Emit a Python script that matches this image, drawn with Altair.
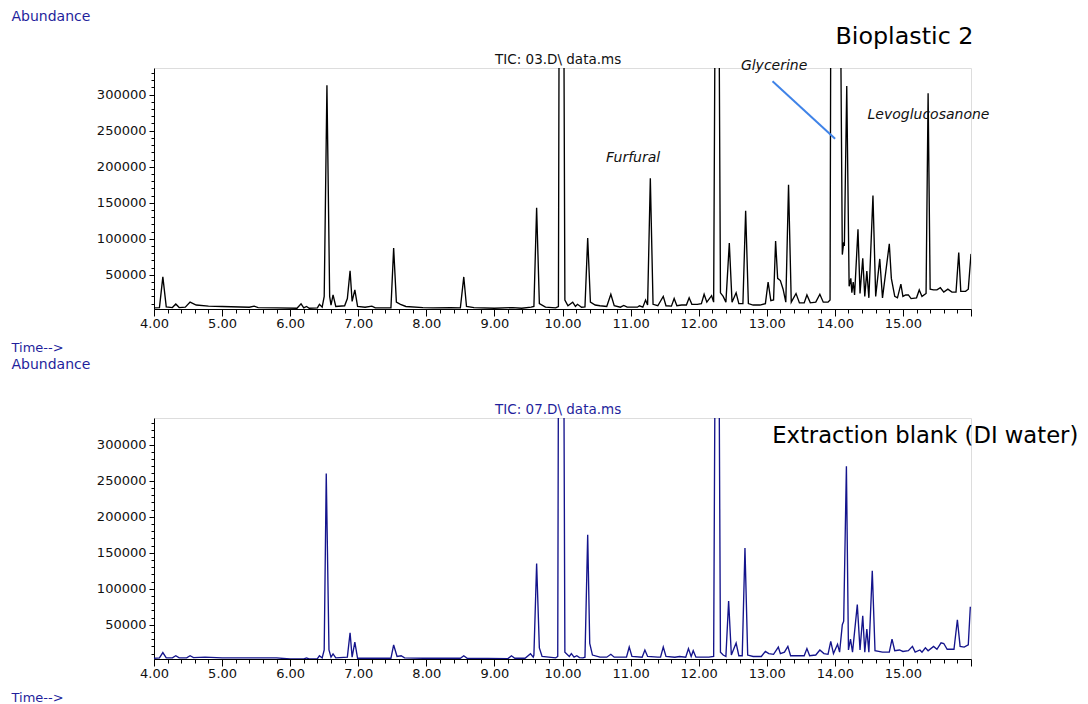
import altair as alt
import pandas as pd

# ---------------- data ----------------
# Bioplastic 2 (TIC: 03.D) retention time [min] and abundance
T1 = [4.00, 4.08, 4.13, 4.18, 4.27, 4.32, 4.37, 4.46, 4.53, 4.62, 4.80, 5.00, 5.40, 5.47, 5.53, 5.80,
      6.10, 6.16, 6.20, 6.24, 6.28, 6.40, 6.43, 6.47, 6.50, 6.54, 6.58, 6.60, 6.63, 6.67, 6.80, 6.84,
      6.88, 6.91, 6.95, 6.99, 7.10, 7.20, 7.25, 7.48, 7.52, 7.56, 7.62, 7.70, 7.95, 8.10, 8.36, 8.50,
      8.55, 8.59, 8.70, 9.00, 9.27, 9.40, 9.54, 9.58, 9.62, 9.66, 9.75, 9.90, 9.94, 9.95, 10.02, 10.035,
      10.08, 10.15, 10.19, 10.22, 10.28, 10.33, 10.37, 10.41, 10.48, 10.55, 10.65, 10.71, 10.76, 10.85,
      10.90, 10.95, 11.10, 11.13, 11.18, 11.22, 11.25, 11.29, 11.33, 11.40, 11.48, 11.52, 11.60, 11.64,
      11.68, 11.75, 11.82, 11.86, 11.90, 11.98, 12.04, 12.08, 12.12, 12.19, 12.22, 12.24, 12.30, 12.32,
      12.36, 12.40, 12.45, 12.49, 12.55, 12.59, 12.65, 12.69, 12.73, 12.80, 12.90, 12.98, 13.02, 13.06,
      13.10, 13.13, 13.16, 13.20, 13.24, 13.28, 13.32, 13.36, 13.43, 13.48, 13.55, 13.59, 13.64, 13.72,
      13.78, 13.83, 13.90, 13.93, 13.94, 14.085, 14.11, 14.13, 14.14, 14.175, 14.21, 14.235, 14.25,
      14.27, 14.29, 14.34, 14.37, 14.41, 14.44, 14.47, 14.50, 14.56, 14.60, 14.66, 14.70, 14.80, 14.83,
      14.88, 14.92, 14.97, 15.00, 15.04, 15.08, 15.12, 15.20, 15.24, 15.28, 15.34, 15.37, 15.40, 15.45,
      15.50, 15.55, 15.60, 15.66, 15.72, 15.78, 15.82, 15.85, 15.92, 15.96, 16.00]
A1 = [4000, 4500, 47000, 5500, 4500, 9500, 4500, 5000, 12000, 8000, 6500, 6000, 5000, 6500, 4500, 4000,
      3500, 9700, 4000, 6000, 3500, 4000, 9000, 5000, 20000, 313000, 20000, 8000, 22000, 6000, 7000, 17000,
      55500, 13000, 29000, 6000, 5000, 6500, 4000, 4000, 87000, 12000, 9000, 6000, 4500, 4000, 4500, 4000,
      47000, 6000, 4500, 3500, 4500, 3500, 5000, 6000, 143000, 10000, 5000, 4000, 6000, 400000, 400000, 15000,
      7000, 12000, 6000, 9000, 5000, 5500, 101000, 12000, 8000, 7000, 6000, 23000, 7000, 5000,
      7500, 5000, 5000, 7000, 5000, 15000, 8000, 184000, 9000, 7000, 20000, 7000, 6500, 17000,
      7000, 8000, 8000, 18000, 9000, 9000, 10000, 23000, 12000, 21000, 12000, 400000, 400000, 25000,
      20000, 12000, 94000, 12000, 25000, 10000, 10000, 139000, 10000, 8000, 8000, 10000, 40000, 14000,
      15000, 97000, 45000, 42000, 30000, 12000, 175000, 12000, 24000, 11000, 11000, 22000, 11000, 12000,
      23000, 12000, 12000, 15000, 400000, 400000, 78000, 95000, 90000, 312000, 34000, 45000, 25000,
      40000, 22000, 113000, 24000, 73000, 20000, 55000, 18000, 160000, 20000, 72000, 18000, 93000, 45000,
      20000, 18000, 37000, 20000, 22000, 22000, 17000, 18000, 29000, 20000, 24000, 302000, 30000, 29000,
      29000, 32000, 26000, 30000, 26000, 26000, 81000, 27000, 27000, 30000, 79000]

# Extraction blank (TIC: 07.D)
T2 = [4.00, 4.08, 4.13, 4.18, 4.27, 4.32, 4.37, 4.48, 4.53, 4.58, 4.75, 5.00, 5.60, 5.80, 6.00, 6.20,
      6.24, 6.28, 6.40, 6.43, 6.47, 6.50, 6.53, 6.57, 6.60, 6.63, 6.67, 6.84, 6.88, 6.91, 6.95, 6.99,
      7.20, 7.48, 7.52, 7.57, 7.63, 7.68, 7.95, 8.50, 8.55, 8.60, 9.20, 9.25, 9.30, 9.45, 9.53, 9.57,
      9.58, 9.62, 9.66, 9.70, 9.90, 9.93, 9.94, 10.02, 10.035, 10.10, 10.13, 10.17, 10.21, 10.25, 10.30,
      10.33, 10.37, 10.40, 10.44, 10.55, 10.65, 10.71, 10.76, 10.94, 10.98, 11.02, 11.17, 11.21, 11.25,
      11.40, 11.44, 11.48, 11.52, 11.65, 11.72, 11.81, 11.85, 11.89, 11.92, 11.96, 12.15, 12.22, 12.24,
      12.30, 12.32, 12.36, 12.40, 12.44, 12.48, 12.55, 12.59, 12.64, 12.68, 12.72, 12.80, 12.92, 12.98,
      13.03, 13.10, 13.17, 13.20, 13.26, 13.31, 13.35, 13.50, 13.55, 13.59, 13.63, 13.72, 13.78, 13.84,
      13.90, 13.94, 13.98, 14.04, 14.07, 14.11, 14.13, 14.17, 14.20, 14.23, 14.26, 14.33, 14.37, 14.41,
      14.44, 14.47, 14.50, 14.55, 14.59, 14.70, 14.80, 14.84, 14.88, 14.95, 15.00, 15.08, 15.14, 15.18,
      15.25, 15.28, 15.33, 15.37, 15.45, 15.50, 15.56, 15.60, 15.65, 15.75, 15.80, 15.84, 15.90, 15.96,
      15.99]
A2 = [3500, 4000, 11500, 4000, 4000, 7000, 4000, 4000, 7000, 4500, 5000, 4000, 4000, 4000, 2500, 2500,
      4000, 2500, 3000, 7000, 4000, 15000, 260000, 15000, 5000, 9500, 4000, 5000, 39000, 5000, 26000, 3500,
      3500, 3500, 22000, 6000, 7000, 4000, 3500, 3500, 7000, 3500, 3000, 7000, 3500, 3500, 9700, 5000,
      8000, 135000, 18000, 6000, 4000, 6000, 400000, 400000, 12000, 6000, 10000, 5000, 7000, 4500, 4000,
      5000, 175000, 24000, 8000, 5000, 5000, 9000, 5000, 5000, 19000, 6000, 5000, 15000, 6000,
      5000, 5000, 19000, 6000, 5000, 6000, 5000, 17000, 6000, 14000, 5000, 5000, 6000, 400000,
      400000, 12000, 8000, 6000, 83000, 8000, 24600, 7000, 7000, 156500, 8000, 6000, 6000, 13000,
      10000, 9000, 19000, 10000, 12000, 20000, 7000, 7000, 7000, 17000, 7000, 8000, 15000, 10000,
      9000, 27000, 10000, 23000, 12000, 50000, 55000, 270000, 15000, 30000, 12000, 78000, 15000, 62500,
      12000, 44000, 12000, 125000, 14000, 12000, 12000, 30000, 14000, 15000, 13000, 14000, 20000, 12000,
      15000, 12000, 18000, 14000, 20000, 16000, 25000, 24000, 16000, 16000, 57000, 20000, 19000, 22000,
      75000]

X_LABELS = [4, 5, 6, 7, 8, 9, 10, 11, 12, 13, 14, 15]
Y_LABELS = [50000, 100000, 150000, 200000, 250000, 300000]

TOP_TITLE = "Bioplastic 2"
BOTTOM_TITLE = "Extraction blank (DI water)"
TOP_TIC = "TIC: 03.D\\ data.ms"
BOTTOM_TIC = "TIC: 07.D\\ data.ms"
COMPOUNDS = ["Furfural", "Glycerine", "Levoglucosanone"]

# ---------------- styling / layout ----------------
FONT = "DejaVu Sans"
W, H = 817, 241
XDOM = [4.0, 16.0]
YDOM = [2500, 337000]
LABEL_BLUE = "#1f1f9c"
TRACE_BLUE = "#14148c"

x_ticks = [round(4.0 + 0.2 * i, 1) for i in range(61)]
y_ticks = list(range(10000, 340000, 10000))
x_lab = "[" + ",".join(str(v) for v in X_LABELS) + "]"
y_lab = "[" + ",".join(str(v) for v in Y_LABELS) + "]"


def make_axes(ytitle_y):
    xaxis = alt.Axis(
        values=x_ticks,
        labelExpr=f"indexof({x_lab}, round(datum.value*10)/10) >= 0 ? format(datum.value, '.2f') : ''",
        tickSize={"condition": {"test": "abs(datum.value - round(datum.value)) < 0.001", "value": 7}, "value": 4},
        labelOverlap=False, labelFlush=False, grid=False,
        domainColor="#000000", tickColor="#000000", labelColor="#111111",
        labelFont=FONT, labelFontSize=13, labelPadding=1,
        title="Time-->", titleFont=FONT, titleFontSize=13, titleFontWeight="normal",
        titleColor=LABEL_BLUE, titleAlign="left", titleBaseline="alphabetic",
        titleX=-143, titleY=42, titleAngle=0,
    )
    yaxis = alt.Axis(
        values=y_ticks,
        labelExpr=f"indexof({y_lab}, datum.value) >= 0 ? format(datum.value, 'd') : ''",
        tickSize={"condition": {"test": f"indexof({y_lab}, datum.value) >= 0", "value": 5}, "value": 3},
        labelOverlap=False, labelFlush=False, grid=False,
        domainColor="#000000", tickColor="#000000", labelColor="#111111",
        labelFont=FONT, labelFontSize=13, labelPadding=3,
        title="Abundance", titleFont=FONT, titleFontSize=14, titleFontWeight="normal",
        titleColor=LABEL_BLUE, titleAlign="left", titleBaseline="alphabetic",
        titleX=-143, titleY=ytitle_y, titleAngle=0,
    )
    return xaxis, yaxis


def panel(times, values, color, tic, tic_color, title, title_pos, title_size, ytitle_y, extra=None):
    xaxis, yaxis = make_axes(ytitle_y)
    xs = alt.Scale(domain=XDOM, nice=False, zero=False)
    ys = alt.Scale(domain=YDOM, nice=False, zero=False)
    X = alt.X("t:Q", scale=xs, axis=xaxis)
    Y = alt.Y("a:Q", scale=ys, axis=yaxis)

    df = pd.DataFrame({"t": times, "a": values})
    line = alt.Chart(df).mark_line(color=color, strokeWidth=1.35, clip=True).encode(x=X, y=Y)

    tic_df = pd.DataFrame({"t": [9.01], "a": [343000], "label": [tic]})
    tic_txt = alt.Chart(tic_df).mark_text(
        font=FONT, fontSize=13.5, color=tic_color, align="left", baseline="alphabetic"
    ).encode(x=X, y=Y, text="label:N")

    ttl_df = pd.DataFrame({"t": [title_pos[0]], "a": [title_pos[1]], "label": [title]})
    ttl_txt = alt.Chart(ttl_df).mark_text(
        font=FONT, fontSize=title_size, color="#000000", align="left", baseline="alphabetic"
    ).encode(x=X, y=Y, text="label:N")

    layers = [line, tic_txt, ttl_txt]
    if extra is not None:
        layers += extra(X, Y)
    return alt.layer(*layers).properties(width=W, height=H)


def top_extra(X, Y):
    cdf = pd.DataFrame({
        "t": [10.64, 12.62, 14.48],
        "a": [206000, 334600, 266000],
        "label": COMPOUNDS,
    })
    comp = alt.Chart(cdf).mark_text(
        font=FONT, fontSize=14, fontStyle="italic", color="#111111",
        align="left", baseline="alphabetic"
    ).encode(x=X, y=Y, text="label:N")
    rdf = pd.DataFrame({"t": [13.085], "t2": [14.004], "a": [318500], "a2": [238900]})
    rule = alt.Chart(rdf).mark_rule(color="#3f83e8", strokeWidth=2).encode(
        x=X, x2="t2:Q", y=Y, y2="a2:Q"
    )
    return [rule, comp]


top = panel(T1, A1, "#000000", TOP_TIC, "#111111", TOP_TITLE, (14.01, 370700), 23.8, -48, top_extra)
bottom = panel(T2, A2, TRACE_BLUE, BOTTOM_TIC, LABEL_BLUE, BOTTOM_TITLE, (13.08, 302700), 22.7, -50)

chart = alt.vconcat(top, bottom, spacing=1).properties(
    padding={"left": 2, "top": 0, "right": 0, "bottom": 0}
).configure_view(stroke=None).configure(background="#ffffff")

chart.save("out.html", embed_options={"renderer": "svg", "actions": False})
